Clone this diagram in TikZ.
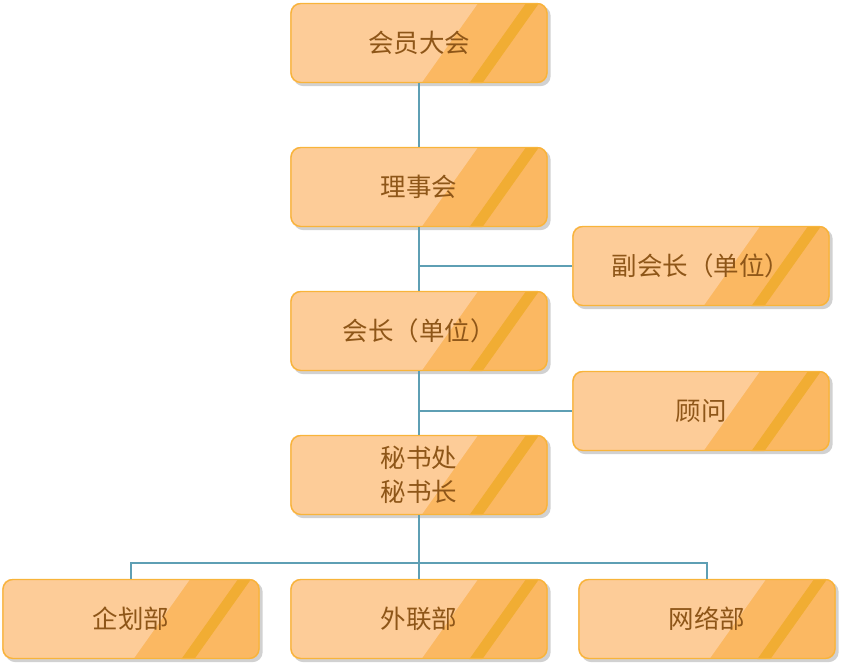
\documentclass[tikz,border=0pt]{standalone}
\usepackage{fontspec}
\newfontfamily\cjk{Noto Sans CJK SC}
\usetikzlibrary{backgrounds,calc}
\definecolor{lightc}{HTML}{FDCC98}
\definecolor{midc}{HTML}{FBB862}
\definecolor{stripec}{HTML}{F1AD33}
\definecolor{borderc}{HTML}{F8B43A}
\definecolor{textc}{HTML}{8E5618}
\definecolor{linec}{HTML}{5E9FB4}
\tikzset{
  orgbox/.style={rounded corners=10pt, draw=borderc, line width=1.3pt,
    minimum width=256pt, minimum height=79pt, inner sep=0pt,
    text=textc, font=\cjk\fontsize{25.5}{34}\selectfont, align=center},
  conn/.style={draw=linec, line width=1.4pt}
}
\newcommand\boxbg[1]{%
  \begin{scope}[on background layer]
    \fill[black!18, rounded corners=10pt] ($(#1.south west)+(3,-3)$) rectangle ($(#1.north east)+(3,-3)$);
    \begin{scope}
      \clip[rounded corners=10pt] (#1.south west) rectangle (#1.north east);
      \fill[midc] (#1.south west) rectangle (#1.north east);
      \fill[lightc] (#1.south west) -- ($(#1.south west)+(131,0)$) -- ($(#1.south west)+(187,79)$) -- ($(#1.south west)+(0,79)$) -- cycle;
      \fill[stripec] ($(#1.south west)+(179,0)$) -- ($(#1.south west)+(192,0)$) -- ($(#1.south west)+(248,79)$) -- ($(#1.south west)+(235,79)$) -- cycle;
    \end{scope}
  \end{scope}}
\begin{document}
\begin{tikzpicture}[x=1pt,y=1pt]
\useasboundingbox (0,0) rectangle (841,665);
\node[orgbox] (a) at (419,622) {会员大会};
\node[orgbox] (b) at (419,478) {理事会};
\node[orgbox] (c) at (701,399) {副会长（单位）};
\node[orgbox] (d) at (419,334) {会长（单位）};
\node[orgbox] (e) at (701,254) {顾问};
\node[orgbox] (f) at (419,190) {秘书处\\秘书长};
\node[orgbox] (g) at (131,46) {企划部};
\node[orgbox] (h) at (419,46) {外联部};
\node[orgbox] (i) at (707,46) {网络部};
\boxbg{a}\boxbg{b}\boxbg{c}\boxbg{d}\boxbg{e}\boxbg{f}\boxbg{g}\boxbg{h}\boxbg{i}
\coordinate (bus) at (419,102);
\draw[conn] (a.south) -- (b.north);
\draw[conn] (b.south) -- (d.north);
\draw[conn] (d.south) -- (f.north);
\draw[conn] (b.south |- c.west) -- (c.west);
\draw[conn] (d.south |- e.west) -- (e.west);
\draw[conn] (f.south) -- (bus);
\draw[conn] (g.north) |- (bus) -| (i.north);
\draw[conn] (bus) -- (h.north);
\end{tikzpicture}
\end{document}
